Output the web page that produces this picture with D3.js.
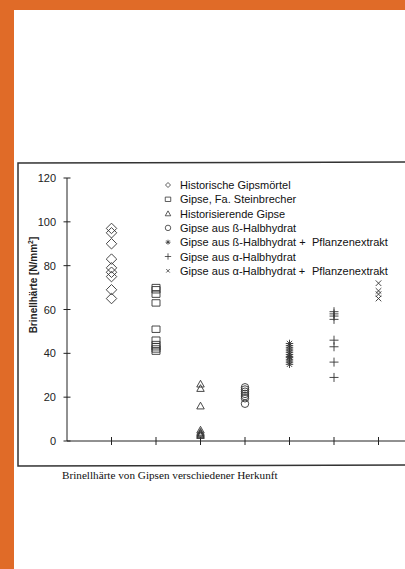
<!DOCTYPE html>
<html>
<head>
<meta charset="utf-8">
<script src="https://cdn.jsdelivr.net/npm/d3@7"></script>
<style>
  body { margin: 0; background: #fff; }
  svg { display: block; }
</style>
</head>
<body>
<div id="chart"></div>
<script>
// values
const seriesNames = [
  'Historische Gipsmörtel',
  'Gipse, Fa. Steinbrecher',
  'Historisierende Gipse',
  'Gipse aus ß-Halbhydrat',
  'Gipse aus ß-Halbhydrat +',
  'Gipse aus α-Halbhydrat',
  'Gipse aus α-Halbhydrat +'
];
const historisch = [97, 95, 90, 83, 79, 77, 75, 69, 65];
const steinbrecher = [70, 69, 67, 63, 51, 46, 44, 43, 42, 41];
const historisierend = [26, 24, 16, 5, 4, 3.5, 3, 2.5];
const betaHH = [24.5, 23.5, 22.5, 21.5, 20.5, 19.5, 17];
const betaHHExtrakt = [44.5, 43.5, 42.5, 41.5, 40.5, 39.5, 38.5, 38, 37, 36, 35];
const alphaHH = [59, 58, 57, 55.5, 46, 43, 36, 29];
const alphaHHExtrakt = [72, 68.5, 67, 65];
const yTicks = [0, 20, 40, 60, 80, 100, 120];

const width = 405;
const height = 569;
const orange = '#e06b28';
const ink = '#222';

const svg = d3.select('#chart')
  .append('svg')
  .attr('width', width)
  .attr('height', height);

// orange page border
svg.append('rect').attr('x', 0).attr('y', 0).attr('width', width).attr('height', 10).attr('fill', orange);
svg.append('rect').attr('x', 0).attr('y', 0).attr('width', 14).attr('height', height).attr('fill', orange);

// frame around the figure
svg.append('path')
  .attr('d', 'M412,162 L18,163 L18,466 L412,465')
  .attr('fill', 'none')
  .attr('stroke', '#333')
  .attr('stroke-width', 1.5);

const x = d3.scaleLinear().domain([0, 8]).range([67, 423]);
const y = d3.scaleLinear().domain([0, 120]).range([441, 178]);

// y axis
const gy = svg.append('g').attr('transform', `translate(${x(0)},0)`);
gy.append('line').attr('y1', y(0)).attr('y2', y(120)).attr('stroke', ink).attr('stroke-width', 1);
gy.selectAll('line.tick').data(yTicks).enter().append('line')
  .attr('class', 'tick')
  .attr('x1', -3.5).attr('x2', 3.5)
  .attr('y1', d => y(d)).attr('y2', d => y(d))
  .attr('stroke', ink);
gy.selectAll('text').data(yTicks).enter().append('text')
  .attr('x', -11)
  .attr('y', d => y(d) + 4)
  .attr('text-anchor', 'end')
  .attr('font-family', 'Liberation Sans, Arial, sans-serif')
  .attr('font-size', 11)
  .attr('fill', ink)
  .text(d => d);

// x axis
const gx = svg.append('g').attr('transform', `translate(0,${y(0)})`);
gx.append('line').attr('x1', x(0)).attr('x2', width).attr('stroke', ink);
gx.selectAll('line.tick').data(d3.range(1, 9)).enter().append('line')
  .attr('class', 'tick')
  .attr('x1', d => x(d)).attr('x2', d => x(d))
  .attr('y1', -4).attr('y2', 4)
  .attr('stroke', ink);

// y axis title
svg.append('text')
  .attr('transform', `translate(37,285) rotate(-90)`)
  .attr('text-anchor', 'middle')
  .attr('font-family', 'Liberation Sans, Arial, sans-serif')
  .attr('font-size', 10)
  .attr('font-weight', 'bold')
  .attr('fill', ink)
  .html('Brinellhärte [N/mm<tspan dy="-4" font-size="7">2</tspan><tspan dy="4">]</tspan>');

// marker shapes
const lines = pts => ({
  draw(ctx, size) {
    const r = Math.sqrt(size) / 2;
    pts.forEach(([a, b, c, d]) => { ctx.moveTo(a * r, b * r); ctx.lineTo(c * r, d * r); });
  }
});
const plusShape = lines([[-1, 0, 1, 0], [0, -1, 0, 1]]);
const timesShape = lines([[-0.7, -0.7, 0.7, 0.7], [-0.7, 0.7, 0.7, -0.7]]);
const starShape = lines([[-1, 0, 1, 0], [0, -1, 0, 1], [-0.7, -0.7, 0.7, 0.7], [-0.7, 0.7, 0.7, -0.7]]);
const diamondShape = {
  draw(ctx, size) {
    const r = Math.sqrt(size) / 2;
    ctx.moveTo(0, -r); ctx.lineTo(r, 0); ctx.lineTo(0, r); ctx.lineTo(-r, 0); ctx.closePath();
  }
};
const triShape = {
  draw(ctx, size) {
    const r = Math.sqrt(size) / 2;
    ctx.moveTo(0, -r); ctx.lineTo(r, r * 0.8); ctx.lineTo(-r, r * 0.8); ctx.closePath();
  }
};
const squareShape = {
  draw(ctx, size) {
    const r = Math.sqrt(size) / 2;
    ctx.rect(-r, -r * 0.8, 2 * r, r * 1.6);
  }
};
const circleShape = {
  draw(ctx, size) {
    const r = Math.sqrt(size) / 2;
    ctx.moveTo(r, 0); ctx.arc(0, 0, r, 0, 2 * Math.PI);
  }
};

const series = [
  { values: historisch, shape: diamondShape, size: 110, legendSize: 25 },
  { values: steinbrecher, shape: squareShape, size: 64, legendSize: 30 },
  { values: historisierend, shape: triShape, size: 56, legendSize: 30 },
  { values: betaHH, shape: circleShape, size: 56, legendSize: 30 },
  { values: betaHHExtrakt, shape: starShape, size: 56, legendSize: 25 },
  { values: alphaHH, shape: plusShape, size: 81, legendSize: 40 },
  { values: alphaHHExtrakt, shape: timesShape, size: 64, legendSize: 25 }
];

series.forEach((s, i) => {
  svg.append('g')
    .selectAll('path')
    .data(s.values)
    .enter()
    .append('path')
    .attr('transform', d => `translate(${x(i + 1)},${y(d)})`)
    .attr('d', d3.symbol().type(s.shape).size(s.size))
    .attr('fill', 'none')
    .attr('stroke', '#333')
    .attr('stroke-width', 0.9);
});

// legend
const legend = svg.append('g').attr('transform', 'translate(168,185)');
const rows = legend.selectAll('g').data(series).enter().append('g')
  .attr('transform', (d, i) => `translate(0,${i * 14.3})`);
rows.append('path')
  .attr('d', d => d3.symbol().type(d.shape).size(d.legendSize)())
  .attr('fill', 'none')
  .attr('stroke', '#333')
  .attr('stroke-width', 0.8);
rows.append('text')
  .attr('x', 12)
  .attr('y', 4)
  .attr('font-family', 'Liberation Sans, Arial, sans-serif')
  .attr('font-size', 11)
  .attr('fill', '#111')
  .text((d, i) => seriesNames[i]);
rows.filter((d, i) => i === 4 || i === 6)
  .append('text')
  .attr('x', 144)
  .attr('y', 4)
  .attr('font-family', 'Liberation Sans, Arial, sans-serif')
  .attr('font-size', 11)
  .attr('fill', '#111')
  .text('Pflanzenextrakt');

// caption
svg.append('text')
  .attr('x', 62)
  .attr('y', 479)
  .attr('font-family', 'Liberation Serif, Times New Roman, serif')
  .attr('font-size', 11.2)
  .attr('fill', '#111')
  .text('Brinellhärte von Gipsen verschiedener Herkunft');
</script>
</body>
</html>
